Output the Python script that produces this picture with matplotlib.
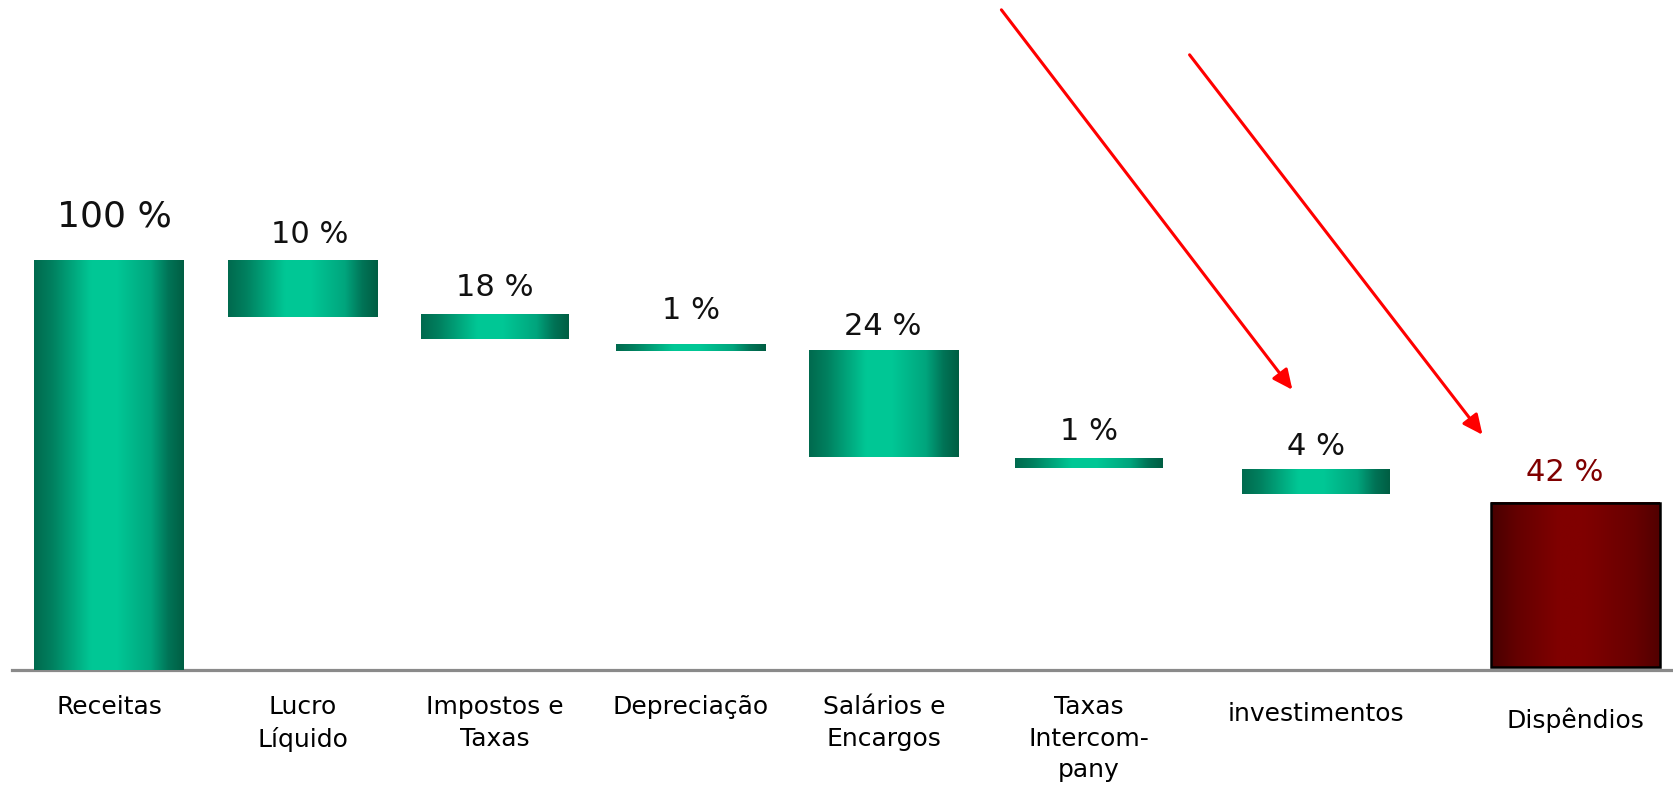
import numpy as np
import matplotlib
matplotlib.use("Agg")
import matplotlib.pyplot as plt
from matplotlib.colors import LinearSegmentedColormap

# --------- data (% of revenue scale) ---------
categories = ["Receitas", "Lucro\nLíquido", "Impostos e\nTaxas", "Depreciação",
              "Salários e\nEncargos", "Taxas\nIntercom-\npany", "investimentos", "Dispêndios"]
pct_labels = ["100 %", "10 %", "18 %", "1 %", "24 %", "1 %", "4 %", "42 %"]
bar_top = [100, 100, 86.8, 79.7, 78.2, 51.8, 48.9, 40.8]
bar_bottom = [0, 86.3, 80.9, 78.0, 52.1, 49.4, 43.0, 0.7]

# arrows (data coords): start -> end
arrow_start = [(4.60, 161.4), (5.57, 150.4)]
arrow_end = [(6.10, 68.5), (7.08, 57.5)]

# --------- layout ---------
x_pos = [0, 1, 1.99, 3.0, 3.995, 5.05, 6.22, 7.56]
widths = [0.77, 0.77, 0.76, 0.77, 0.77, 0.76, 0.76, 0.87]
label_off = [32, 19, 20, 24, 17, 19, 17, 22]     # pt above bar top
label_dx = [4, 5, 0, 0, -1, 0, 0, -8]            # pt sideways
cat_drop = [0, 0, 0, 0, 0, 0, 5, 9]              # extra pt below axis

green = LinearSegmentedColormap.from_list("g", [
    (0.0, "#006a4e"), (0.12, "#00805f"), (0.38, "#00c795"), (0.55, "#00c896"),
    (0.78, "#00a57d"), (0.9, "#007356"), (1.0, "#005e43")])
red = LinearSegmentedColormap.from_list("r", [
    (0.0, "#480000"), (0.15, "#640000"), (0.4, "#800000"), (0.55, "#800000"),
    (0.85, "#680000"), (1.0, "#520000")])

fig = plt.figure(figsize=(16.73, 7.88), dpi=100)
ax = fig.add_axes([0, 0, 1, 1])
ax.set_axis_off()

heights = [t - b for t, b in zip(bar_top, bar_bottom)]
rects = ax.bar(x_pos, heights, bottom=bar_bottom, width=widths,
               color="none", edgecolor="none", zorder=4)

grad = np.linspace(0, 1, 256).reshape(1, -1)
for i, r in enumerate(rects):
    x0, y0 = r.get_x(), r.get_y()
    w, h = r.get_width(), r.get_height()
    cmap = red if i == len(rects) - 1 else green
    ax.imshow(grad, cmap=cmap, aspect="auto", interpolation="bicubic",
              extent=(x0, x0 + w, y0, y0 + h), zorder=3)
rects[-1].set_edgecolor("black")
rects[-1].set_linewidth(1.8)

# baseline
ax.axhline(0, xmin=12 / 1673, xmax=1, color="#8a8a8a", lw=2.3, zorder=2)

# value labels
for i, (x, t, lab) in enumerate(zip(x_pos, bar_top, pct_labels)):
    fs = 26 if i == 0 else 22
    col = "#800000" if i == len(x_pos) - 1 else "#111111"
    ax.annotate(lab, (x, t), xytext=(label_dx[i], label_off[i]), textcoords="offset points",
                ha="center", va="center", fontsize=fs, color=col)

# category labels
for i, (x, c) in enumerate(zip(x_pos, categories)):
    ax.annotate(c, (x, 0), xytext=(0, -18 - cat_drop[i]), textcoords="offset points",
                ha="center", va="top", fontsize=18, linespacing=1.4, color="black")

# red arrows
for s, e in zip(arrow_start, arrow_end):
    ax.annotate("", xy=e, xytext=s,
                arrowprops=dict(arrowstyle="-|>,head_length=0.6,head_width=0.28",
                                color="#ff0000", lw=2.2, mutation_scale=20,
                                shrinkA=0, shrinkB=0))

ax.set_xlim(-0.562, 8.062)
ax.set_ylim(-28.85, 163.8)

fig.savefig("out.png", dpi=100)
